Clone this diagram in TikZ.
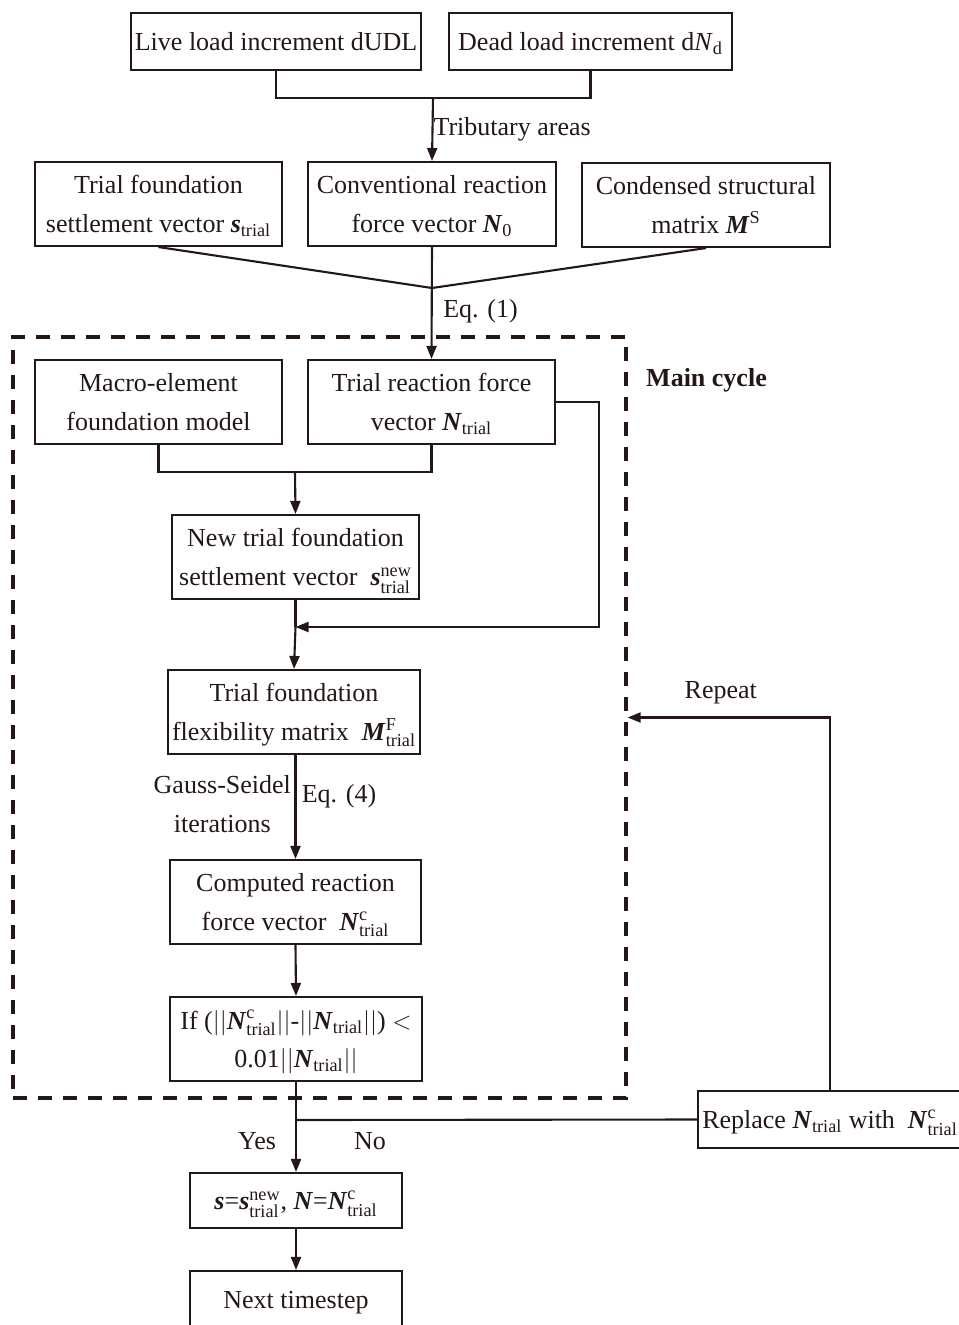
\documentclass[tikz,border=0pt]{standalone}
\usepackage{amsmath}
\usepackage{fontspec}
\setmainfont{Liberation Serif}
\usepackage{tikz}
\usetikzlibrary{arrows.meta}
\usetikzlibrary{positioning}

\definecolor{ink}{RGB}{35,24,21}
\newcommand{\vN}{\textbf{\textit{N}}}
\newcommand{\vs}{\textbf{\textit{s}}}
\newcommand{\vM}{\textbf{\textit{M}}}
\newcommand{\tx}[1]{\text{#1}}

\tikzset{
  flowbox/.style={draw=ink, line width=1.2pt, inner sep=0pt, align=center,
    minimum width=4.94cm, minimum height=1.68cm, text depth=0pt},
  thinbox/.style={flowbox, minimum height=1.14cm},
  link/.style={draw=ink, line width=1.2pt},
  flowarrow/.style={link, -{Triangle[length=0.26cm,width=0.2cm]}},
  cyclebox/.style={draw=ink, line width=2pt, dash pattern=on 0.28cm off 0.22cm,
    minimum width=12.26cm, minimum height=15.22cm, inner sep=0pt},
}

\begin{document}
\begin{tikzpicture}[x=0.02cm, y=-0.02cm, font=\fontsize{14.8}{22}\selectfont, text=ink]
              \useasboundingbox (0,0) rectangle (958,1325);
              % loads
              \node[thinbox, minimum width=5.8cm] (live) at (276,41.5) {Live load increment dUDL};
              \node[thinbox, minimum width=5.66cm] (dead) at (590.5,41.5) {Dead load increment d$\tx{\textit{N}}_{\tx{d}}$};
              \coordinate (jload) at (433,98);
              \draw[link] (live.south) |- (jload) -| (dead.south);
              % initial quantities
              \node[flowbox] (trialset) at (158.5,204) {Trial foundation\\settlement vector $\vs_{\tx{trial}}$};
              \node[flowbox, minimum width=4.96cm] (convforce) at (432,204) {Conventional reaction\\force vector $\vN_{\tx{0}}$};
              \node[flowbox, minimum width=4.96cm] (condmat) at (706,205) {Condensed structural\\matrix $\vM^{\tx{S}}$};
              \draw[flowarrow] (jload) -- (convforce.north) node[midway, right, inner sep=0pt] {Tributary areas};
              \coordinate (jeq) at (432,288);
              \draw[link] (trialset.south) -- (jeq);
              \draw[link] (condmat.south) -- (jeq);
              % main cycle
              \node[cyclebox] (cycle) at (319.5,717.5) {};
              \node[anchor=west, font=\fontsize{14.8}{22}\selectfont\bfseries] (cyclename) at (640,380) {Main cycle};
              \node[flowbox] (macro) at (158.5,402) {Macro-element\\foundation model};
              \node[flowbox] (trialforce) at (431.5,402) {Trial reaction force\\vector $\vN_{\tx{trial}}$};
              \draw[flowarrow] (convforce.south) -- (trialforce.north) node[pos=0.57, right, inner sep=6pt] {Eq. (1)};
              \coordinate (jmacro) at (295,472);
              \draw[link] (macro.south) |- (jmacro) -| (trialforce.south);
              \node[flowbox] (newset) at (295.5,557) {New trial foundation\\settlement vector\enspace$\vs^{\tx{new}}_{\tx{trial}}$};
              \draw[flowarrow] (jmacro) -- (newset.north);
              \coordinate (jback) at (295.5,627);
              \draw[flowarrow] (trialforce.east) -- ++(43,0) |- (jback);
              \draw[link] (newset.south) -- (jback);
              \node[flowbox, minimum width=5.04cm] (flexmat) at (294,712) {Trial foundation\\flexibility matrix\enspace$\vM^{\tx{F}}_{\tx{trial}}$};
              \draw[flowarrow] (jback) -- (flexmat.north);
              \node[flowbox, minimum width=5.02cm] (compforce) at (295.5,902) {Computed reaction\\force vector\enspace$\vN^{\tx{c}}_{\tx{trial}}$};
              \draw[flowarrow] (flexmat.south -| compforce.north) -- (compforce.north)
                node[pos=0.47, left, align=center, inner sep=2pt] {Gauss-Seidel\\iterations}
                node[pos=0.4, right, inner sep=3pt] {Eq. (4)};
              \node[flowbox, minimum width=5.04cm] (check) at (296,1039) {If ($||\vN^{\tx{c}}_{\tx{trial}}||$-$||\vN_{\tx{trial}}||$) $<$\\0.01$||\vN_{\tx{trial}}||$};
              \draw[flowarrow] (compforce.south) -- (check.north);
              % exit and repeat
              \node[thinbox, minimum width=4.24cm, minimum height=1.1cm] (update) at (296,1200.5) {$\vs$=$\vs^{\tx{new}}_{\tx{trial}}$, $\vN$=$\vN^{\tx{c}}_{\tx{trial}}$};
              \node[thinbox, minimum width=4.24cm] (nextstep) at (296,1299.5) {Next timestep};
              \node[thinbox, minimum width=5.28cm] (replace) at (830,1119.5) {Replace $\vN_{\tx{trial}}$ with\enspace$\vN^{\tx{c}}_{\tx{trial}}$};
              \draw[flowarrow] (check.south) -- (update.north);
              \coordinate (jexit) at (296,1120);
              \draw[link] (jexit) -- (replace.west);
              \node (yes) at (257,1141) {Yes};
              \node (no) at (370,1141) {No};
              \draw[flowarrow] (replace.north) |- (cycle.east) node[pos=0.77, above, inner sep=7pt] {Repeat};
              \draw[flowarrow] (update.south) -- (nextstep.north);
            \end{tikzpicture}
\end{document}
